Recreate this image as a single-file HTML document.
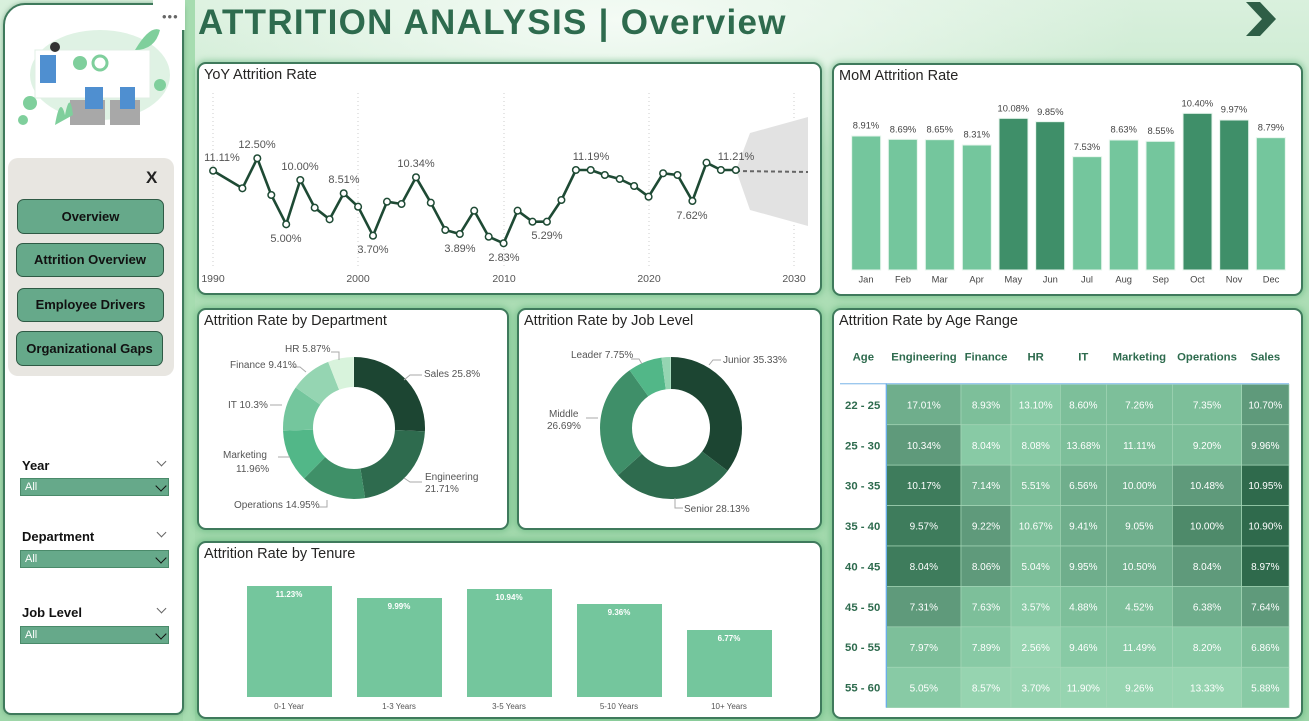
<!DOCTYPE html>
<html><head><meta charset="utf-8"><style>
*{margin:0;padding:0;box-sizing:border-box}
body{width:1309px;height:721px;overflow:hidden;position:relative;font-family:"Liberation Sans",sans-serif;
background:radial-gradient(ellipse 520px 140px at 620px 20px,#f4fbf5 0%,rgba(244,251,245,0) 100%),linear-gradient(180deg,#d9f0dd 0%,#a9dcb2 45%,#9ed7a9 100%);}
.card{position:absolute;background:#fff;border:2px solid #3f7a5c;border-radius:9px;box-shadow:0 0 6px 2px rgba(80,170,110,.45)}
.t{position:absolute;left:5px;top:3px;font-size:14.5px;color:#252423}
.abs{position:absolute}
.btn{position:absolute;background:#66a98a;border:1.5px solid #2f5a45;border-radius:7px;font-weight:bold;font-size:13px;color:#111;text-align:center}
.lbl{position:absolute;font-weight:bold;font-size:13px;color:#111}
.dd{position:absolute;left:20px;width:149px;height:18px;background:#66a98a;border:1px solid #4a8a6a;font-size:11px;color:#fff;padding-left:4px;line-height:16px}
.ch{position:absolute;right:3px;top:3px;width:8px;height:8px;border-right:1.5px solid #111;border-bottom:1.5px solid #111;transform:rotate(45deg)}
.ch2{position:absolute;left:158px;width:7px;height:7px;border-right:1.5px solid #666;border-bottom:1.5px solid #666;transform:rotate(45deg)}
</style></head><body>
<div class="abs" style="left:183px;top:0;width:12px;height:721px;background:#a6dcb0"></div>
<div class="abs" style="left:3px;top:3px;width:181px;height:712px;background:#fff;border:2px solid #3f7a5c;border-radius:22px 8px 8px 8px;box-shadow:0 0 5px rgba(60,120,80,.5)"></div>
<div class="abs" style="left:153px;top:0;width:32px;height:30px;background:#fff"></div>
<div class="abs" style="left:162px;top:9px;font-size:13px;color:#666;letter-spacing:1px">•••</div>
<svg class="abs" style="left:15px;top:25px" width="155" height="108">
<ellipse cx="85" cy="50" rx="70" ry="45" fill="#dff2e4"/>
<rect x="20" y="25" width="115" height="48" fill="#fff" stroke="#e0efe4"/>
<circle cx="85" cy="38" r="7" fill="none" stroke="#7fcf9c" stroke-width="3"/>
<circle cx="65" cy="38" r="7" fill="#7fcf9c"/>
<rect x="25" y="30" width="16" height="28" fill="#4f8fd0"/>
<circle cx="40" cy="22" r="5" fill="#333"/>
<circle cx="15" cy="78" r="7" fill="#7fcf9c"/><circle cx="145" cy="60" r="6" fill="#7fcf9c"/><circle cx="8" cy="95" r="5" fill="#7fcf9c"/>
<rect x="55" y="75" width="35" height="25" fill="#a8a8a8"/><rect x="95" y="75" width="30" height="25" fill="#a8a8a8"/>
<rect x="70" y="62" width="18" height="22" fill="#4f8fd0"/><rect x="105" y="62" width="15" height="22" fill="#4f8fd0"/>
<path d="M40 100 q5 -30 10 -10 q5 -25 8 0" fill="#7fcf9c"/>
<path d="M120 25 q15 -25 25 -20 q-5 20 -25 20" fill="#7fcf9c"/>
</svg>
<div class="abs" style="left:8px;top:158px;width:166px;height:218px;background:#e8e6e1;border-radius:10px"></div>
<div class="abs" style="left:146px;top:168px;font-size:17px;font-weight:bold;color:#222">X</div>
<div class="btn" style="left:17px;top:199px;width:147px;height:35px;line-height:33px">Overview</div>
<div class="btn" style="left:16px;top:243px;width:148px;height:34px;line-height:32px">Attrition Overview</div>
<div class="btn" style="left:17px;top:288px;width:147px;height:34px;line-height:32px">Employee Drivers</div>
<div class="btn" style="left:16px;top:331px;width:147px;height:35px;line-height:33px">Organizational Gaps</div>
<div class="lbl" style="left:22px;top:458px">Year</div><div class="ch2" style="top:458px"></div>
<div class="dd" style="top:478px">All<span class="ch"></span></div>
<div class="lbl" style="left:22px;top:529px">Department</div><div class="ch2" style="top:529px"></div>
<div class="dd" style="top:550px">All<span class="ch"></span></div>
<div class="lbl" style="left:22px;top:605px">Job Level</div><div class="ch2" style="top:605px"></div>
<div class="dd" style="top:626px">All<span class="ch"></span></div>

<div class="abs" style="left:198px;top:3px;font-size:35px;font-weight:bold;color:#2e6b4e;letter-spacing:1.3px;white-space:nowrap">ATTRITION ANALYSIS | Overview</div>
<svg class="abs" style="left:1240px;top:0" width="40" height="38"><polygon points="6,2 20,2 36,19 20,36 6,36 22,19" fill="#2e5e46"/></svg>

<!-- YoY -->
<div class="card" style="left:197px;top:62px;width:625px;height:233px"><div class="t">YoY Attrition Rate</div></div>
<svg id="yoy" class="abs" style="left:0;top:0" width="830" height="300" font-family="Liberation Sans" font-size="11" fill="#555" text-anchor="middle">
<g stroke="#ccc" stroke-width="1" stroke-dasharray="1 3">
<line x1="213" y1="93" x2="213" y2="268"/><line x1="358" y1="93" x2="358" y2="268"/><line x1="504" y1="93" x2="504" y2="268"/><line x1="649" y1="93" x2="649" y2="268"/><line x1="794" y1="93" x2="794" y2="268"/></g>
<polygon points="736,170 750,133 808,117 808,226 750,210" fill="#e2e2e2"/>
<line x1="736" y1="171" x2="808" y2="172" stroke="#666" stroke-width="2" stroke-dasharray="4 3"/>
<polyline id="yl" fill="none" stroke="#1e4a34" stroke-width="2.6" stroke-linejoin="round"/>
<g id="yc" fill="#fff" stroke="#1e4a34" stroke-width="1.5"></g>
<text x="222" y="161">11.11%</text><text x="257" y="148">12.50%</text><text x="300" y="170">10.00%</text><text x="286" y="242">5.00%</text><text x="344" y="183">8.51%</text><text x="373" y="253">3.70%</text><text x="416" y="167">10.34%</text><text x="460" y="252">3.89%</text><text x="504" y="261">2.83%</text><text x="547" y="239">5.29%</text><text x="591" y="160">11.19%</text><text x="692" y="219">7.62%</text><text x="736" y="160">11.21%</text>
<g font-size="10.5"><text x="213" y="282">1990</text><text x="358" y="282">2000</text><text x="504" y="282">2010</text><text x="649" y="282">2020</text><text x="794" y="282">2030</text></g>
</svg>
<script>
(function(){var Z=[45,332,118,385,155,295,190,405,227,493,262,360,298,443,335,478,370,400,406,440,443,527,478,425,514,432,550,352,587,428,623,510,659,522,695,452,731,530,768,550,803,452,840,485,876,485,912,420,948,330,985,330,1020,345,1057,357,1093,378,1129,410,1165,340,1201,345,1238,423,1273,308,1309,330,1346,330];
var p=[],g=document.getElementById("yc"),ns="http://www.w3.org/2000/svg";
for(var i=0;i<Z.length;i+=2){var x=(Z[i]/2.489+195).toFixed(1),y=(Z[i+1]/3+60).toFixed(1);p.push(x+","+y);var c=document.createElementNS(ns,"circle");c.setAttribute("cx",x);c.setAttribute("cy",y);c.setAttribute("r",3.3);g.appendChild(c);}
document.getElementById("yl").setAttribute("points",p.join(" "));})();
</script>

<!-- MoM -->
<div class="card" style="left:832px;top:63px;width:471px;height:233px"><div class="t">MoM Attrition Rate</div></div>
<svg class="abs" style="left:830px;top:60px" width="479" height="240" viewBox="0 0 1437 720" font-family="Liberation Sans" font-size="28" fill="#444" text-anchor="middle">
<g stroke="#e8f6ee" stroke-width="3">
<rect x="65" y="228" width="87" height="402" fill="#74c69d"/><rect x="175" y="238" width="87" height="392" fill="#74c69d"/><rect x="286" y="239" width="87" height="391" fill="#74c69d"/><rect x="397" y="255" width="87" height="375" fill="#74c69d"/><rect x="507" y="175" width="87" height="455" fill="#3f8f69"/><rect x="617" y="185" width="87" height="445" fill="#3f8f69"/><rect x="728" y="290" width="87" height="340" fill="#74c69d"/><rect x="838" y="240" width="87" height="390" fill="#74c69d"/><rect x="948" y="244" width="87" height="386" fill="#74c69d"/><rect x="1059" y="160" width="87" height="470" fill="#3f8f69"/><rect x="1169" y="180" width="87" height="450" fill="#3f8f69"/><rect x="1279" y="233" width="87" height="397" fill="#74c69d"/></g>
<text x="108" y="205">8.91%</text><text x="219" y="218">8.69%</text><text x="329" y="218">8.65%</text><text x="440" y="233">8.31%</text><text x="550" y="155">10.08%</text><text x="661" y="165">9.85%</text><text x="771" y="270">7.53%</text><text x="881" y="218">8.63%</text><text x="992" y="222">8.55%</text><text x="1102" y="140">10.40%</text><text x="1212" y="158">9.97%</text><text x="1323" y="212">8.79%</text>
<text x="108" y="668">Jan</text><text x="219" y="668">Feb</text><text x="329" y="668">Mar</text><text x="440" y="668">Apr</text><text x="550" y="668">May</text><text x="661" y="668">Jun</text><text x="771" y="668">Jul</text><text x="881" y="668">Aug</text><text x="992" y="668">Sep</text><text x="1102" y="668">Oct</text><text x="1212" y="668">Nov</text><text x="1323" y="668">Dec</text>
</svg>

<!-- Dept & Job -->
<div class="card" style="left:197px;top:308px;width:312px;height:222px"><div class="t">Attrition Rate by Department</div></div>
<div class="card" style="left:517px;top:308px;width:305px;height:222px"><div class="t">Attrition Rate by Job Level</div></div>
<svg class="abs" style="left:0;top:0" width="830" height="540" font-family="Liberation Sans" font-size="10" fill="#555">
<g fill="none" stroke-width="30" transform="rotate(-90 354 428)">
<circle cx="354" cy="428" r="56" pathLength="100" stroke="#1c4532" stroke-dasharray="25.8 100"/>
<circle cx="354" cy="428" r="56" pathLength="100" stroke="#2e6b4e" stroke-dasharray="0 25.8 21.71 100"/>
<circle cx="354" cy="428" r="56" pathLength="100" stroke="#3f9068" stroke-dasharray="0 47.51 14.95 100"/>
<circle cx="354" cy="428" r="56" pathLength="100" stroke="#52b788" stroke-dasharray="0 62.46 11.96 100"/>
<circle cx="354" cy="428" r="56" pathLength="100" stroke="#74c69d" stroke-dasharray="0 74.42 10.3 100"/>
<circle cx="354" cy="428" r="56" pathLength="100" stroke="#95d5b2" stroke-dasharray="0 84.72 9.41 100"/>
<circle cx="354" cy="428" r="56" pathLength="100" stroke="#d8f3dc" stroke-dasharray="0 94.13 5.87 100"/>
</g>
<g fill="none" stroke="#aaa" stroke-width="1"><path d="M404 380 l6 -5 h12"/><path d="M404 478 l6 4 h12"/><path d="M290 457 h-12"/><path d="M282 405 h-12"/><path d="M306 372 l-6 -5 h-8"/><path d="M339 360 v-8 h-8"/><path d="M327 500 v7 h-8"/></g>
<text x="424" y="377">Sales 25.8%</text><text x="425" y="480">Engineering</text><text x="425" y="492">21.71%</text>
<text x="234" y="508">Operations 14.95%</text><text x="223" y="458">Marketing</text><text x="236" y="472">11.96%</text>
<text x="228" y="408">IT 10.3%</text><text x="230" y="368">Finance 9.41%</text><text x="285" y="352">HR 5.87%</text>
<g fill="none" stroke-width="32" transform="rotate(-90 671 428)">
<circle cx="671" cy="428" r="55" pathLength="100" stroke="#1c4532" stroke-dasharray="35.33 100"/>
<circle cx="671" cy="428" r="55" pathLength="100" stroke="#2e6b4e" stroke-dasharray="0 35.33 28.13 100"/>
<circle cx="671" cy="428" r="55" pathLength="100" stroke="#3f8f69" stroke-dasharray="0 63.46 26.69 100"/>
<circle cx="671" cy="428" r="55" pathLength="100" stroke="#52b788" stroke-dasharray="0 90.15 7.75 100"/>
<circle cx="671" cy="428" r="55" pathLength="100" stroke="#95d5b2" stroke-dasharray="0 97.9 2.1 100"/>
</g>
<g fill="none" stroke="#aaa" stroke-width="1"><path d="M709 365 l4 -5 h8"/><path d="M675 498 v10 h8"/><path d="M598 418 h-12"/><path d="M642 364 l-3 -5 h-8"/></g>
<text x="723" y="363">Junior 35.33%</text><text x="684" y="512">Senior 28.13%</text><text x="549" y="417">Middle</text><text x="547" y="429">26.69%</text><text x="571" y="358">Leader 7.75%</text>
</svg>

<!-- Tenure -->
<div class="card" style="left:197px;top:541px;width:625px;height:178px"><div class="t">Attrition Rate by Tenure</div></div>
<svg class="abs" style="left:197px;top:541px" width="625" height="178" font-family="Liberation Sans" text-anchor="middle">
<g fill="#74c69d"><rect x="50" y="45" width="85" height="111"/><rect x="160" y="57" width="85" height="99"/><rect x="270" y="48" width="85" height="108"/><rect x="380" y="63" width="85" height="93"/><rect x="490" y="89" width="85" height="67"/></g>
<g fill="#fff" font-size="8" font-weight="bold"><text x="92" y="56">11.23%</text><text x="202" y="68">9.99%</text><text x="312" y="59">10.94%</text><text x="422" y="74">9.36%</text><text x="532" y="100">6.77%</text></g>
<g fill="#555" font-size="8"><text x="92" y="168">0-1 Year</text><text x="202" y="168">1-3 Years</text><text x="312" y="168">3-5 Years</text><text x="422" y="168">5-10 Years</text><text x="532" y="168">10+ Years</text></g>
</svg>

<!-- Age heatmap -->
<div class="card" style="left:832px;top:308px;width:471px;height:411px"><div class="t">Attrition Rate by Age Range</div></div>
<svg class="abs" style="left:830px;top:305px" width="479" height="416" viewBox="0 0 1437 1248" font-family="Liberation Sans" text-anchor="middle">
<g font-size="34" font-weight="bold" fill="#2e6b4e">
<text x="100" y="167">Age</text><text x="282" y="167">Engineering</text><text x="468" y="167">Finance</text><text x="617" y="167">HR</text><text x="760" y="167">IT</text><text x="928" y="167">Marketing</text><text x="1131" y="167">Operations</text><text x="1306" y="167">Sales</text>
<text x="98" y="312">22 - 25</text><text x="98" y="433">25 - 30</text><text x="98" y="553">30 - 35</text><text x="98" y="675">35 - 40</text><text x="98" y="796">40 - 45</text><text x="98" y="918">45 - 50</text><text x="98" y="1038">50 - 55</text><text x="98" y="1160">55 - 60</text></g>
<g id="hm" stroke="#a6d7b8" stroke-width="2"></g>
<line x1="30" y1="236" x2="1377" y2="236" stroke="#9cc8ee" stroke-width="4"/>
<line x1="169" y1="236" x2="169" y2="1208" stroke="#6aaee8" stroke-width="4"/>
<g id="ht" font-size="30" fill="#fff"></g>
</svg>
<script>
var xs=[170,393,543,691,829,1027,1235,1377],C=["#96d4b0","#88caa5","#7dbf9a","#6fae8c","#5f9a7b","#4e8a6a","#3e7c5c","#2f6a4c"];
var L=[[3,2,1,2,2,2,4],[4,1,1,2,2,2,4],[6,3,2,3,3,4,7],[6,4,2,3,3,5,7],[6,4,2,3,3,4,7],[4,2,1,2,2,3,4],[2,1,0,1,1,1,2],[1,0,0,0,0,0,1]];
var V=[["17.01%","8.93%","13.10%","8.60%","7.26%","7.35%","10.70%"],["10.34%","8.04%","8.08%","13.68%","11.11%","9.20%","9.96%"],["10.17%","7.14%","5.51%","6.56%","10.00%","10.48%","10.95%"],["9.57%","9.22%","10.67%","9.41%","9.05%","10.00%","10.90%"],["8.04%","8.06%","5.04%","9.95%","10.50%","8.04%","8.97%"],["7.31%","7.63%","3.57%","4.88%","4.52%","6.38%","7.64%"],["7.97%","7.89%","2.56%","9.46%","11.49%","8.20%","6.86%"],["5.05%","8.57%","3.70%","11.90%","9.26%","13.33%","5.88%"]];
var ns="http://www.w3.org/2000/svg",g=document.getElementById("hm"),t=document.getElementById("ht");
for(var r=0;r<8;r++)for(var c=0;c<7;c++){var y=238+r*121.25;var e=document.createElementNS(ns,"rect");e.setAttribute("x",xs[c]);e.setAttribute("y",y);e.setAttribute("width",xs[c+1]-xs[c]);e.setAttribute("height",121.25);e.setAttribute("fill",C[L[r][c]]);g.appendChild(e);
var tx=document.createElementNS(ns,"text");tx.setAttribute("x",(xs[c]+xs[c+1])/2);tx.setAttribute("y",y+72);tx.textContent=V[r][c];t.appendChild(tx);}
</script>
</body></html>
